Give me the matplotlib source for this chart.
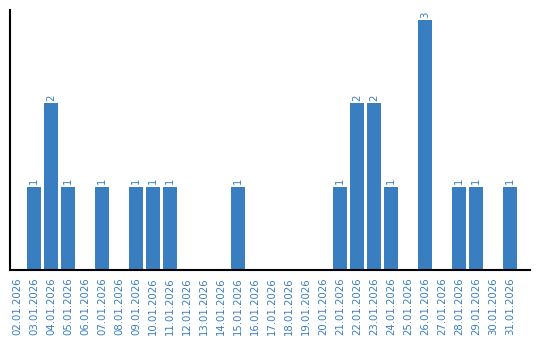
import matplotlib
matplotlib.use("Agg")
import matplotlib.pyplot as plt

dates = ["02.01.2026", "03.01.2026", "04.01.2026", "05.01.2026", "06.01.2026",
         "07.01.2026", "08.01.2026", "09.01.2026", "10.01.2026", "11.01.2026",
         "12.01.2026", "13.01.2026", "14.01.2026", "15.01.2026", "16.01.2026",
         "17.01.2026", "18.01.2026", "19.01.2026", "20.01.2026", "21.01.2026",
         "22.01.2026", "23.01.2026", "24.01.2026", "25.01.2026", "26.01.2026",
         "27.01.2026", "28.01.2026", "29.01.2026", "30.01.2026", "31.01.2026"]
counts = [0, 1, 2, 1, 0, 1, 0, 1, 1, 1, 0, 0, 0, 1, 0, 0, 0, 0, 0, 1,
          2, 2, 1, 0, 3, 0, 1, 1, 0, 1]

color = "#3a7ec2"
fig = plt.figure(figsize=(5.4, 3.4), dpi=100)
ax = fig.add_axes([10/540, 70/340, 520/540, 260/340])
x = list(range(len(dates)))
ax.bar(x, counts, width=0.82, color=color)
for xi, v in zip(x, counts):
    if v > 0:
        ax.text(xi, v + 0.03, str(v), rotation=90, ha="center", va="bottom",
                fontsize=7.3, color=color)
ax.set_xlim(-0.41, 30.18)
ax.set_ylim(0, 3.12)
ax.set_xticks(x)
ax.set_xticklabels(dates, rotation=90, fontsize=7.3, color=color)
ax.tick_params(axis="x", length=0, pad=5)
ax.set_yticks([])
for s in ["top", "right"]:
    ax.spines[s].set_visible(False)
ax.spines["left"].set_linewidth(1.5)
ax.spines["bottom"].set_linewidth(1.5)
fig.savefig("out.png", dpi=100)
